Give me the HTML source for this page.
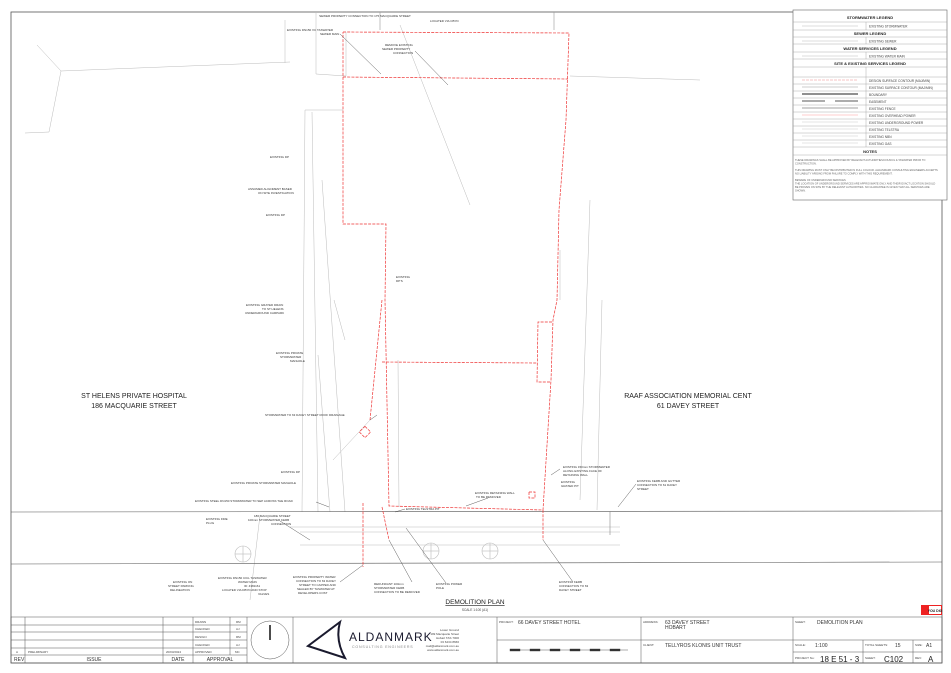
<!DOCTYPE html>
<html><head><meta charset="utf-8"><style>
html,body{margin:0;padding:0;background:#fff}
svg{display:block;font-family:"Liberation Sans",sans-serif}
</style></head><body>
<svg width="951" height="673" viewBox="0 0 951 673" xmlns="http://www.w3.org/2000/svg">
<rect width="951" height="673" fill="#fff"/>
<!-- frame -->
<rect x="11" y="12" width="931" height="651" fill="none" stroke="#555" stroke-width="0.8"/>
<!-- legend box -->
<g font-size="3.2" fill="#444">
<rect x="793" y="10" width="154" height="190" fill="#fff" stroke="#666" stroke-width="0.6"/>
<g stroke="#999" stroke-width="0.4">
<line x1="793" y1="22" x2="947" y2="22"/><line x1="793" y1="30" x2="947" y2="30"/>
<line x1="793" y1="37" x2="947" y2="37"/><line x1="793" y1="44" x2="947" y2="44"/>
<line x1="793" y1="52" x2="947" y2="52"/><line x1="793" y1="59" x2="947" y2="59"/>
<line x1="793" y1="67" x2="947" y2="67"/>
<line x1="793" y1="77" x2="947" y2="77"/><line x1="793" y1="84" x2="947" y2="84"/><line x1="793" y1="91" x2="947" y2="91"/><line x1="793" y1="98" x2="947" y2="98"/><line x1="793" y1="105" x2="947" y2="105"/><line x1="793" y1="112" x2="947" y2="112"/><line x1="793" y1="119" x2="947" y2="119"/><line x1="793" y1="126" x2="947" y2="126"/><line x1="793" y1="133" x2="947" y2="133"/><line x1="793" y1="140" x2="947" y2="140"/><line x1="793" y1="147" x2="947" y2="147"/>
<line x1="793" y1="155" x2="947" y2="155"/>
<line x1="866" y1="22" x2="866" y2="30"/><line x1="866" y1="37" x2="866" y2="44"/><line x1="866" y1="52" x2="866" y2="59"/><line x1="866" y1="67" x2="866" y2="147"/>
</g>
<g font-weight="bold" font-size="4" text-anchor="middle" fill="#222">
<text x="870" y="19">STORMWATER LEGEND</text><text x="870" y="35">SEWER LEGEND</text>
<text x="870" y="50">WATER SERVICES LEGEND</text><text x="870" y="65">SITE &amp; EXISTING SERVICES LEGEND</text>
<text x="870" y="153">NOTES</text></g>
<text x="869" y="27.5">EXISTING STORMWATER</text><text x="869" y="42.5">EXISTING SEWER</text><text x="869" y="57.5">EXISTING WATER MAIN</text>
<text x="869" y="82">DESIGN SURFACE CONTOUR (MAJ/MIN)</text><text x="869" y="89">EXISTING SURFACE CONTOUR (MAJ/MIN)</text><text x="869" y="96">BOUNDARY</text><text x="869" y="103">EASEMENT</text><text x="869" y="110">EXISTING FENCE</text><text x="869" y="117">EXISTING OVERHEAD POWER</text><text x="869" y="124">EXISTING UNDERGROUND POWER</text><text x="869" y="131">EXISTING TELSTRA</text><text x="869" y="138">EXISTING NBN</text><text x="869" y="145">EXISTING GAS</text>
<g stroke-width="0.5">
<line x1="802" y1="26" x2="858" y2="26" stroke="#bbb"/><line x1="802" y1="41" x2="858" y2="41" stroke="#bbb"/><line x1="802" y1="56" x2="858" y2="56" stroke="#bbb"/>
<line x1="802" y1="80" x2="858" y2="80" stroke="#e88" stroke-dasharray="3 1"/><line x1="802" y1="87" x2="858" y2="87" stroke="#999"/>
<line x1="802" y1="94" x2="858" y2="94" stroke="#222" stroke-width="1"/><line x1="802" y1="101" x2="825" y2="101" stroke="#222" stroke-width="0.8"/><line x1="835" y1="101" x2="858" y2="101" stroke="#222" stroke-width="0.8"/>
<line x1="802" y1="108" x2="858" y2="108" stroke="#444"/><line x1="802" y1="115" x2="858" y2="115" stroke="#f99"/><line x1="802" y1="122" x2="858" y2="122" stroke="#ccc"/><line x1="802" y1="129" x2="858" y2="129" stroke="#ccc"/><line x1="802" y1="136" x2="858" y2="136" stroke="#ccc"/><line x1="802" y1="143" x2="858" y2="143" stroke="#ccc"/>
</g>
<g font-size="2.6" fill="#666"><text x="795" y="161">THESE DRAWINGS SHALL BE APPROVED BY RELEVANT AUTHORITIES/COUNCIL &amp; TASWATER PRIOR TO</text><text x="795" y="164.5">CONSTRUCTION.</text>
<text x="795" y="171">THIS DRAWING MUST ONLY BE DISTRIBUTED IN FULL COLOUR. ALDANMARK CONSULTING ENGINEERS ACCEPTS</text><text x="795" y="174.5">NO LIABILITY ARISING FROM FAILURE TO COMPLY WITH THIS REQUIREMENT.</text>
<text x="795" y="181">BEWARE OF UNDERGROUND SERVICES</text><text x="795" y="184.5">THE LOCATION OF UNDERGROUND SERVICES ARE APPROXIMATE ONLY AND THEIR EXACT LOCATION SHOULD</text><text x="795" y="188">BE PROVEN ON SITE BY THE RELEVANT AUTHORITIES. NO GUARANTEE IS GIVEN THAT ALL SERVICES ARE</text><text x="795" y="191.5">SHOWN.</text></g>
</g>

<!-- faint grey services -->
<g fill="none" stroke="#bbb" stroke-width="0.5">
<polyline points="37,45 61,71 49,132 25,133"/>
<polyline points="61,71 290,62"/>
<line x1="285" y1="20" x2="285" y2="63"/>
<polyline points="316,12 316,74 346,76"/>
<polyline points="346,32 346,76"/>
<line x1="570" y1="76" x2="700" y2="80"/>
<line x1="400" y1="25" x2="470" y2="205"/>
<polyline points="305,110 343,110"/>
<line x1="305" y1="110" x2="302" y2="512"/>
<line x1="312" y1="112" x2="318" y2="512"/>
<line x1="322" y1="180" x2="345" y2="512"/>
<line x1="334" y1="300" x2="345" y2="340" />
<line x1="318" y1="355" x2="330" y2="512"/>
<line x1="333" y1="460" x2="370" y2="420"/>
<line x1="398" y1="360" x2="399" y2="507"/>
<line x1="602" y1="300" x2="597" y2="510"/>
<line x1="590" y1="200" x2="580" y2="500"/>
<line x1="560" y1="250" x2="560" y2="300"/>
<line x1="290" y1="527" x2="620" y2="527"/>
<line x1="300" y1="532" x2="620" y2="532"/>
<line x1="300" y1="545" x2="620" y2="545"/>
<line x1="250" y1="600" x2="260" y2="515"/>
</g>
<!-- road -->
<g stroke="#555" stroke-width="0.6">
<line x1="11" y1="512" x2="942" y2="511"/>
<line x1="11" y1="564" x2="942" y2="562"/>
<line x1="610" y1="511" x2="610" y2="535" stroke="#888"/>
<line x1="380" y1="30" x2="380" y2="12" stroke="#999"/>
<line x1="554" y1="30" x2="554" y2="12" stroke="#999"/>
</g>
<g fill="none" stroke="#bbb" stroke-width="0.6">
<circle cx="243" cy="554" r="8"/><line x1="235" y1="554" x2="251" y2="554"/><line x1="243" y1="546" x2="243" y2="562"/>
<circle cx="431" cy="551" r="8"/><line x1="423" y1="551" x2="439" y2="551"/><line x1="431" y1="543" x2="431" y2="559"/>
<circle cx="490" cy="551" r="8"/><line x1="482" y1="551" x2="498" y2="551"/><line x1="490" y1="543" x2="490" y2="559"/>
</g>

<!-- red boundary -->
<g fill="none" stroke="#e33" stroke-width="0.7" stroke-dasharray="3 1.2">
<polyline points="343,32 569,33 566,120 559,210 557,300 553,320 551,380 543,510 389,506 385,300 386,224 343,224 343,32"/>
<line x1="343" y1="77" x2="568" y2="79"/>
<polyline points="382,362 537,363"/>
<polyline points="552,322 538,322 537,382 551,382"/>
<polyline points="382,300 370,420"/>
<rect x="361" y="428" width="8" height="8" transform="rotate(45 365 432)"/>
<line x1="363" y1="503" x2="363" y2="567"/>
<line x1="382" y1="507" x2="389" y2="540"/>
<line x1="543" y1="510" x2="543" y2="540"/>
<rect x="529" y="492" width="6" height="6"/>
</g>

<!-- labels -->
<g font-size="3" fill="#333">
<text x="365" y="17" text-anchor="middle">SEWER PROPERTY CONNECTION TO 175 MACQUARIE STREET</text>
<text x="430" y="22">LOCATED VIA CBYD</text>
<text x="287" y="31">EXISTING DN150 VC TASWATER</text><text x="320" y="35">SEWER MAIN</text>
<text x="385" y="46">REMOVE EXISTING</text><text x="382" y="50">SEWER PROPERTY</text><text x="393" y="54">CONNECTION</text>
<text x="270" y="158">EXISTING DP</text>
<text x="248" y="190">ASSUMED ALIGNMENT BASED</text><text x="258" y="194">ON SITE INVESTIGATION</text>
<text x="266" y="216">EXISTING DP</text>
<text x="396" y="278">EXISTING</text><text x="396" y="282">DP'S</text>
<text x="246" y="306">EXISTING GRATED DRAIN</text><text x="262" y="310">TO ST HELENS</text><text x="245" y="314">UNDERGROUND CARPARK</text>
<text x="276" y="354">EXISTING PRIVATE</text><text x="280" y="358">STORMWATER</text><text x="290" y="362">MANHOLE</text>
<text x="265" y="416">STORMWATER TO 63 DAVEY STREET ROOF DRAINAGE</text>
<text x="281" y="473">EXISTING DP</text>
<text x="231" y="484">EXISTING PRIVATE STORMWATER MANHOLE</text>
<text x="195" y="502">EXISTING STEEL DN150 STORMWATER TO SEP ACROSS THE ROAD</text>
<text x="206" y="520">EXISTING FIRE</text><text x="206" y="524">PLUG</text>
<text x="254" y="517">186 MACQUARIE STREET</text><text x="248" y="521">100mm STORMWATER KERB</text><text x="271" y="525">CONNECTION</text>
<text x="406" y="510">EXISTING TELSTRA PIT</text>
<text x="475" y="494">EXISTING RETAINING WALL</text><text x="476" y="498">TO BE REMOVED</text>
<text x="563" y="468">EXISTING 150mm STORMWATER</text><text x="563" y="472">ALONG EXISTING FACE OF</text><text x="563" y="476">RETAINING WALL</text>
<text x="561" y="483">EXISTING</text><text x="561" y="487">GRATED PIT</text>
<text x="637" y="482">EXISTING KERB AND GUTTER</text><text x="637" y="486">CONNECTION TO 61 DAVEY</text><text x="637" y="490">STREET</text>
<text x="173" y="583">EXISTING ON</text><text x="168" y="587">STREET PARKING</text><text x="170" y="591">DELINEATION</text>
<text x="218" y="579">EXISTING DN150 CICL TASWATER</text><text x="238" y="583">WATER MAIN</text><text x="244" y="587">ID: 4381161</text><text x="222" y="591">LOCATED VIA DBYD AND STOP</text><text x="258" y="595">VALVES</text>
<text x="293" y="578">EXISTING PROPERTY WATER</text><text x="296" y="582">CONNECTION TO 63 DAVEY</text><text x="299" y="586">STREET TO CAPPED AND</text><text x="297" y="590">SEALED BY TASWATER AT</text><text x="298" y="594">DEVELOPERS COST</text>
<text x="374" y="585">REDUNDANT 100mm</text><text x="374" y="589">STORMWATER KERB</text><text x="374" y="593">CONNECTION TO BE REMOVED</text>
<text x="436" y="585">EXISTING POWER</text><text x="436" y="589">POLE</text>
<text x="559" y="583">EXISTING KERB</text><text x="559" y="587">CONNECTION TO 63</text><text x="559" y="591">DAVEY STREET</text>
</g>
<g fill="none" stroke="#333" stroke-width="0.4">
<line x1="340" y1="34" x2="381" y2="74"/><line x1="415" y1="51" x2="448" y2="85"/>
<line x1="377" y1="415" x2="370" y2="420"/>
<line x1="316" y1="502" x2="329" y2="507"/>
<line x1="560" y1="469" x2="551" y2="475"/>
<line x1="636" y1="484" x2="618" y2="507"/>
<line x1="488" y1="498" x2="466" y2="506"/>
<line x1="405" y1="509" x2="395" y2="512"/>
<line x1="280" y1="521" x2="310" y2="540"/>
<line x1="412" y1="582" x2="389" y2="540"/>
<line x1="446" y1="583" x2="406" y2="528"/>
<line x1="573" y1="582" x2="543" y2="540"/>
<line x1="340" y1="582" x2="363" y2="565"/>
</g>
<!-- site names -->
<g font-size="7" fill="#222" text-anchor="middle">
<text x="134" y="398">ST HELENS PRIVATE HOSPITAL</text><text x="134" y="408">186 MACQUARIE STREET</text>
<text x="688" y="398">RAAF ASSOCIATION MEMORIAL CENT</text><text x="688" y="408">61 DAVEY STREET</text>
</g>
<text x="475" y="604" font-size="6.5" text-anchor="middle" fill="#222" text-decoration="underline">DEMOLITION PLAN</text>
<text x="475" y="611" font-size="3.2" text-anchor="middle" fill="#444">SCALE 1:100 (A1)</text>
<!-- dial before you dig -->
<rect x="921" y="605" width="21" height="10" fill="#e22"/><rect x="929" y="606" width="12" height="8" fill="#fff"/>
<text x="935" y="612" font-size="3.5" font-weight="bold" text-anchor="middle" fill="#222">YOU DIG</text>

<!-- title block -->
<g stroke="#555" stroke-width="0.5" fill="none">
<rect x="11" y="617" width="931" height="46"/>
<line x1="11" y1="625" x2="247" y2="625"/><line x1="11" y1="632" x2="247" y2="632"/><line x1="11" y1="640" x2="247" y2="640"/><line x1="11" y1="648" x2="247" y2="648"/><line x1="11" y1="655" x2="247" y2="655"/>
<line x1="25" y1="617" x2="25" y2="663"/><line x1="163" y1="617" x2="163" y2="663"/><line x1="193" y1="617" x2="193" y2="663"/><line x1="230" y1="617" x2="230" y2="655"/><line x1="247" y1="617" x2="247" y2="663"/>
<line x1="293" y1="617" x2="293" y2="663"/><line x1="497" y1="617" x2="497" y2="663"/><line x1="641" y1="617" x2="641" y2="663"/><line x1="793" y1="617" x2="793" y2="663"/>
<line x1="497" y1="640" x2="942" y2="640"/><line x1="793" y1="652" x2="942" y2="652"/>
<line x1="863" y1="640" x2="863" y2="663"/><line x1="913" y1="640" x2="913" y2="663"/>
<circle cx="270" cy="640" r="19"/>
</g>
<line x1="270" y1="625" x2="270" y2="640" stroke="#111" stroke-width="1.5"/>
<g font-size="3" fill="#444">
<text x="195" y="623">DRAWN</text><text x="236" y="623">RM</text>
<text x="195" y="630">CHECKED</text><text x="236" y="630">AJ</text>
<text x="195" y="638">DESIGN</text><text x="236" y="638">RM</text>
<text x="195" y="646">CHECKED</text><text x="236" y="646">AJ</text>
<text x="195" y="653">APPROVED</text><text x="235" y="653">MC</text>
<text x="16" y="653">A</text><text x="28" y="653">PRELIMINARY</text><text x="166" y="653">20/03/2024</text>
<text x="499" y="623">PROJECT:</text><text x="643" y="623">ADDRESS:</text><text x="795" y="623">SHEET:</text>
<text x="643" y="646">CLIENT:</text><text x="795" y="646">SCALE:</text><text x="865" y="646">TOTAL SHEETS:</text><text x="915" y="646">SIZE:</text>
<text x="795" y="659">PROJECT No:</text><text x="865" y="659">SHEET:</text><text x="915" y="659">REV:</text>
<text x="459" y="631" text-anchor="end">Lower Ground</text><text x="459" y="635" text-anchor="end">199 Macquarie Street</text><text x="459" y="639" text-anchor="end">Hobart TAS 7000</text><text x="459" y="643" text-anchor="end">03 6234 8666</text><text x="459" y="647" text-anchor="end">mail@aldanmark.com.au</text><text x="459" y="651" text-anchor="end">www.aldanmark.com.au</text>
</g>
<g font-size="5" fill="#333">
<text x="14" y="661">REV</text><text x="94" y="661" text-anchor="middle">ISSUE</text><text x="178" y="661" text-anchor="middle">DATE</text><text x="220" y="661" text-anchor="middle">APPROVAL</text>
<text x="518" y="624">66 DAVEY STREET HOTEL</text>
<text x="665" y="624">63 DAVEY STREET</text><text x="665" y="629">HOBART</text>
<text x="817" y="624">DEMOLITION PLAN</text>
<text x="665" y="647">TELLYROS KLONIS UNIT TRUST</text>
<text x="815" y="647">1:100</text><text x="895" y="647">15</text><text x="926" y="647">A1</text>
</g>
<g font-size="8" fill="#222"><text x="820" y="662">18 E 51 - 3</text><text x="884" y="662">C102</text><text x="928" y="662">A</text></g>
<!-- logo -->
<path d="M340 622 L308 646 L345 658 Q335 640 340 622 Z" fill="none" stroke="#1a1a2e" stroke-width="2"/>
<text x="349" y="641" font-size="12" fill="#1a1a2e" letter-spacing="1">ALDANMARK</text>
<text x="352" y="648" font-size="3.6" fill="#888" letter-spacing="0.8">CONSULTING ENGINEERS</text>
<!-- scale bar -->
<g stroke="#333" stroke-width="0.4">
<line x1="510" y1="650" x2="628" y2="650"/>
<rect x="510" y="649" width="10" height="2" fill="#333"/><rect x="530" y="649" width="10" height="2" fill="#333"/><rect x="550" y="649" width="10" height="2" fill="#333"/><rect x="570" y="649" width="10" height="2" fill="#333"/><rect x="590" y="649" width="10" height="2" fill="#333"/><rect x="610" y="649" width="10" height="2" fill="#333"/>
</g>
</svg>
</body></html>
